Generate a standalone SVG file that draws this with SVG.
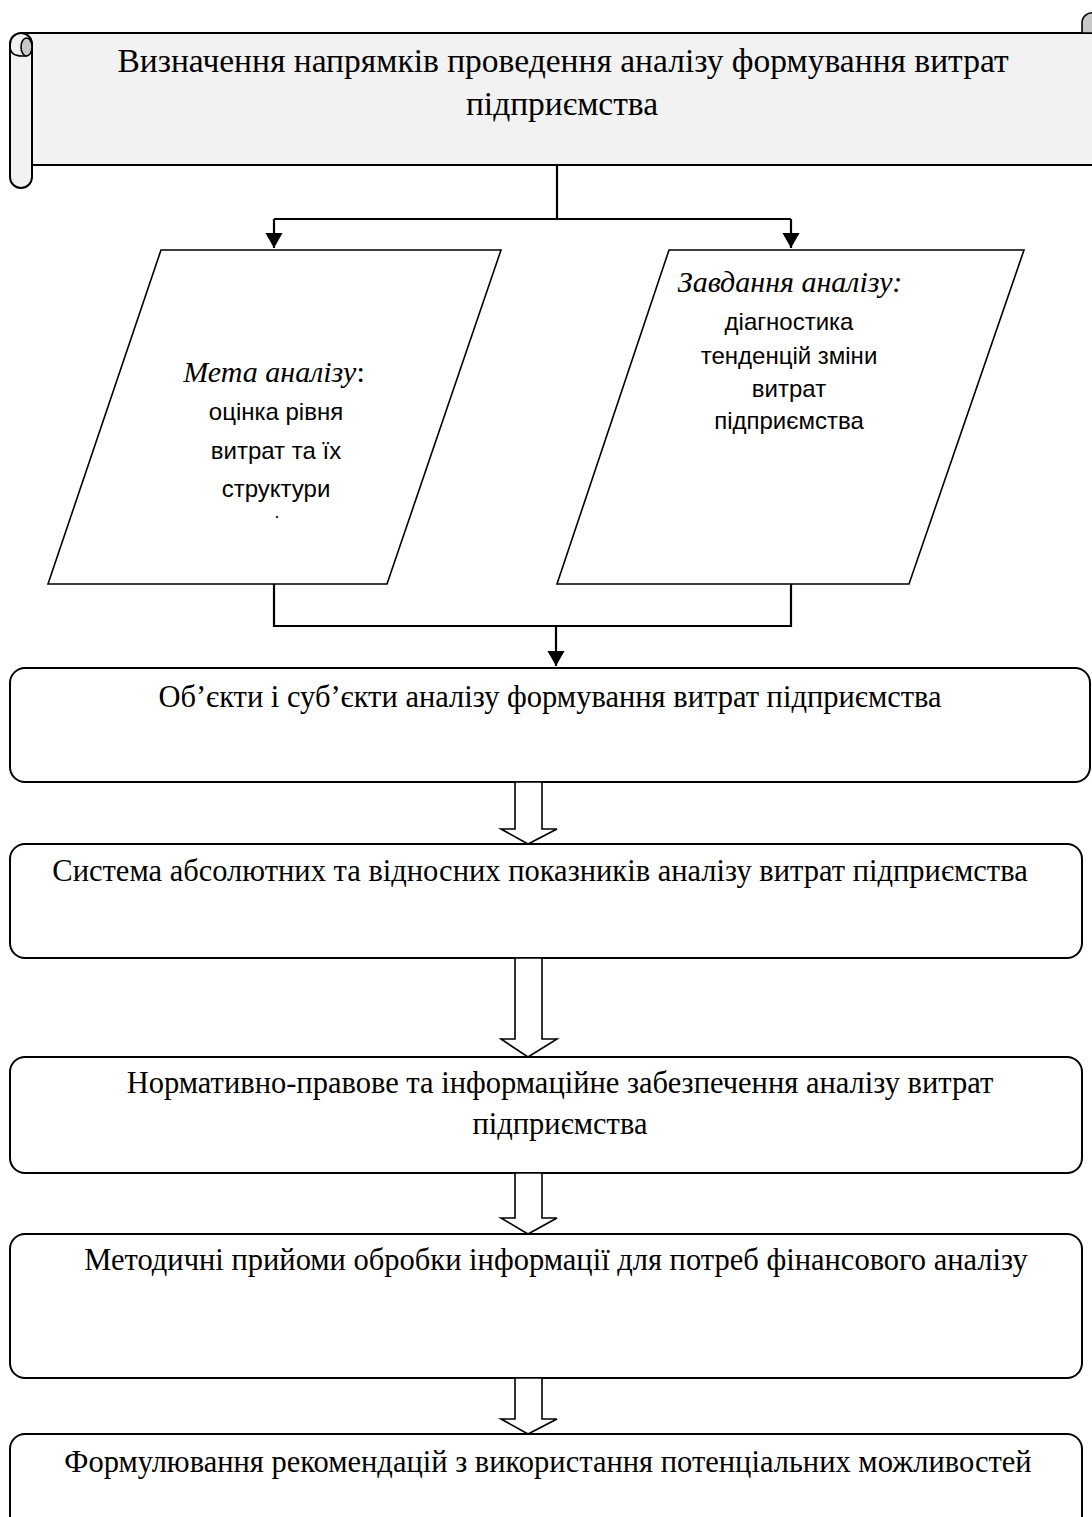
<svg xmlns="http://www.w3.org/2000/svg" width="1092" height="1517" viewBox="0 0 1092 1517">
<style>
.serif{font-family:"Liberation Serif","Times New Roman",serif;fill:#000}
.sans{font-family:"Liberation Sans",Arial,sans-serif;fill:#000}
.box{fill:#fff;stroke:#000;stroke-width:2}
.para{fill:#fff;stroke:#000;stroke-width:1.6}
.conn{fill:none;stroke:#000;stroke-width:2.2}
.blk{fill:#fff;stroke:#000;stroke-width:1.6}
.bt{font-size:30.5px}
</style>
<defs>
<marker id="ah" markerWidth="8" markerHeight="8" refX="7" refY="4" orient="auto" markerUnits="strokeWidth">
<path d="M0,0 L7,4 L0,8 Z" fill="#000"/>
</marker>
</defs>
<rect width="1092" height="1517" fill="#fff"/>

<g id="title">
<path d="M21,33 L1094,33 L1094,165 L32,165" fill="#f2f2f2" stroke="#000" stroke-width="2"/>
<path d="M10,44 A11,11 0 0 1 32,44 L32,177 A11,11 0 0 1 10,177 Z" fill="#f2f2f2" stroke="#000" stroke-width="2"/>
<path d="M10,46 Q10,56 22,56 L27,56" fill="none" stroke="#000" stroke-width="1.6"/>
<ellipse cx="26.5" cy="47" rx="5.5" ry="9" fill="#c8c8c8" stroke="#000" stroke-width="1.6"/>
<path d="M1082,33 L1082,23 A10,10 0 0 1 1094,13 L1094,33 Z" fill="#c8c8c8" stroke="#000" stroke-width="1.6"/>
<text class="serif" font-size="33.5" text-anchor="middle" x="563" y="72">Визначення напрямків проведення аналізу формування витрат</text>
<text class="serif" font-size="33.5" text-anchor="middle" x="562" y="115">підприємства</text>
</g>

<g id="goal">
<polygon class="para" points="161,250 501,250 387,584 48,584"/>
<text class="serif" font-size="30" text-anchor="middle" x="274" y="382"><tspan font-style="italic">Мета аналізу</tspan>:</text>
<text class="sans" font-size="24" text-anchor="middle" x="276" y="420">оцінка рівня</text>
<text class="sans" font-size="24" text-anchor="middle" x="276" y="459">витрат та їх</text>
<text class="sans" font-size="24" text-anchor="middle" x="276" y="497">структури</text>
<text class="sans" font-size="18" text-anchor="middle" x="277" y="518">.</text>
</g>

<g id="tasks">
<polygon class="para" points="669,250 1024,250 909,584 557,584"/>
<text class="serif" font-size="30" font-style="italic" text-anchor="middle" x="790" y="292">Завдання аналізу:</text>
<text class="sans" font-size="24" text-anchor="middle" x="789" y="330">діагностика</text>
<text class="sans" font-size="24" text-anchor="middle" x="789" y="364">тенденцій зміни</text>
<text class="sans" font-size="24" text-anchor="middle" x="789" y="397">витрат</text>
<text class="sans" font-size="24" text-anchor="middle" x="789" y="429">підприємства</text>
</g>

<g id="objects">
<rect class="box" x="10" y="668" width="1080" height="114" rx="15"/>
<text class="serif bt" text-anchor="middle" x="550" y="707">Об’єкти і суб’єкти аналізу формування витрат підприємства</text>
</g>

<g id="indicators">
<rect class="box" x="10" y="844" width="1072" height="114" rx="15"/>
<text class="serif bt" text-anchor="middle" x="540" y="881">Система абсолютних та відносних показників аналізу витрат підприємства</text>
</g>

<g id="regulatory">
<rect class="box" x="10" y="1057" width="1072" height="116" rx="15"/>
<text class="serif bt" text-anchor="middle" x="560" y="1093">Нормативно-правове та інформаційне забезпечення аналізу витрат</text>
<text class="serif bt" text-anchor="middle" x="560" y="1134">підприємства</text>
</g>

<g id="methods">
<rect class="box" x="10" y="1234" width="1072" height="144" rx="15"/>
<text class="serif bt" text-anchor="middle" x="556" y="1270">Методичні прийоми обробки інформації для потреб фінансового аналізу</text>
</g>

<g id="recommendations">
<rect class="box" x="10" y="1434" width="1072" height="120" rx="15"/>
<text class="serif bt" text-anchor="middle" x="548" y="1472">Формулювання рекомендацій з використання потенціальних можливостей</text>
</g>

<g id="connectors">
<path class="conn" d="M557,165 L557,219"/>
<path class="conn" d="M274,219 L791,219"/>
<path class="conn" d="M274,219 L274,248" marker-end="url(#ah)"/>
<path class="conn" d="M791,219 L791,248" marker-end="url(#ah)"/>
<path class="conn" d="M274,584 L274,626 L791,626 L791,584"/>
<path class="conn" d="M556,626 L556,666" marker-end="url(#ah)"/>
<polygon class="blk" points="515,782 542,782 542,829 557,829 528,844 501,829 515,829"/>
<polygon class="blk" points="515,958 542,958 542,1039 557,1039 528,1057 501,1039 515,1039"/>
<polygon class="blk" points="515,1173 542,1173 542,1218 557,1218 528,1234 501,1218 515,1218"/>
<polygon class="blk" points="515,1378 542,1378 542,1419 557,1419 528,1434 501,1419 515,1419"/>
</g>
</svg>
